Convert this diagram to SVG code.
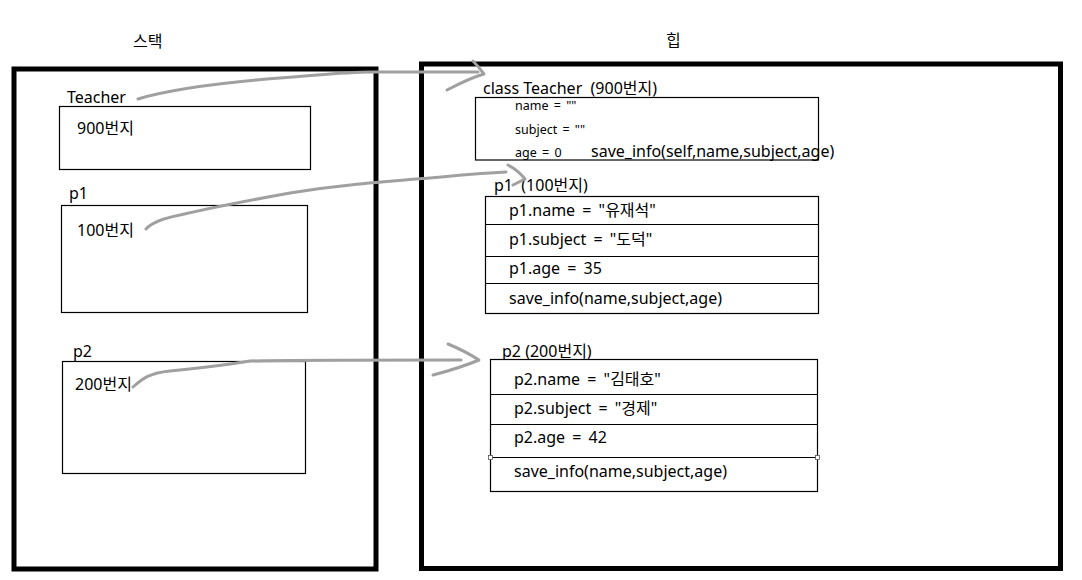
<svg xmlns="http://www.w3.org/2000/svg" width="1082" height="580" viewBox="0 0 1082 580">
<style>
text{font-family:"Noto Sans","Noto Sans CJK KR",sans-serif;fill:#000;white-space:pre}
.t{font-size:16px}
.w{word-spacing:3px}
.s{font-size:12.5px;word-spacing:2px}
.h{font-size:16px}
.outer{fill:none;stroke:#000;stroke-width:5}
.box{fill:#fff;stroke:#000;stroke-width:1.2}
.div{stroke:#000;stroke-width:1.2}
.pen{fill:none;stroke:#a0a0a0;stroke-width:3;stroke-linecap:round;stroke-linejoin:round}
.hdl{fill:#fff;stroke:#555;stroke-width:0.8}
</style>
<rect width="1082" height="580" fill="#fff"/>

<g id="stack">
<text class="h" x="133" y="47">스택</text>
<rect class="outer" x="14" y="69" width="362" height="500"/>
</g>
<g id="heap">
<text class="h" x="666" y="46">힙</text>
<rect class="outer" x="421.5" y="64" width="639" height="504.5"/>
</g>

<g id="teacher-var">
<text class="t" x="67" y="103">Teacher</text>
<rect class="box" x="59.5" y="106.5" width="251" height="63"/>
<text class="t" x="77" y="134">900번지</text>
</g>
<g id="p1-var">
<text class="t" x="69" y="199">p1</text>
<rect class="box" x="61.5" y="205.5" width="246" height="107"/>
<text class="t" x="77" y="236">100번지</text>
</g>
<g id="p2-var">
<text class="t" x="73" y="357">p2</text>
<rect class="box" x="62.5" y="361.5" width="243" height="112"/>
<text class="t" x="75" y="390">200번지</text>
</g>

<g id="class-teacher">
<text class="t" x="483" y="94">class Teacher  (900번지)</text>
<rect class="box" x="475.5" y="97.5" width="343" height="62.5"/>
<text class="s" x="515" y="110">name = ""</text>
<text class="s" x="515" y="134">subject = ""</text>
<text class="s" x="515" y="157">age = 0</text>
<text class="t" x="591" y="157">save_info(self,name,subject,age)</text>
</g>

<g id="p1-obj">
<text class="t" x="494" y="191">p1  (100번지)</text>
<rect class="box" x="485.5" y="196.5" width="333" height="117"/>
<line class="div" x1="485.5" y1="224.5" x2="818.5" y2="224.5"/>
<line class="div" x1="485.5" y1="256.5" x2="818.5" y2="256.5"/>
<line class="div" x1="485.5" y1="283.5" x2="818.5" y2="283.5"/>
<text class="t w" x="509" y="216">p1.name = "유재석"</text>
<text class="t w" x="509" y="245">p1.subject = "도덕"</text>
<text class="t w" x="509" y="274">p1.age = 35</text>
<text class="t" x="509" y="304">save_info(name,subject,age)</text>
</g>

<g id="p2-obj">
<text class="t" x="502" y="357">p2 (200번지)</text>
<rect class="box" x="490.5" y="359.5" width="327" height="132"/>
<line class="div" x1="490.5" y1="394.5" x2="817.5" y2="394.5"/>
<line class="div" x1="490.5" y1="424.5" x2="817.5" y2="424.5"/>
<line class="div" x1="490.5" y1="457.5" x2="817.5" y2="457.5"/>
<text class="t w" x="514" y="385">p2.name = "김태호"</text>
<text class="t w" x="514" y="414">p2.subject = "경제"</text>
<text class="t w" x="514" y="443">p2.age = 42</text>
<text class="t" x="514" y="477">save_info(name,subject,age)</text>
<rect class="hdl" x="488.5" y="455.5" width="4" height="4"/>
<rect class="hdl" x="815.5" y="455.5" width="4" height="4"/>
</g>

<g id="connectors">
<path class="pen" d="M138,99 C175,88 230,82 280,78 C320,75 345,72 372,72 L478,72"/>
<path class="pen" d="M473,61 Q478,66 484,74 Q470,78 447,90"/>
<path class="pen" d="M146,229 C152,222 165,218 180,215 C210,208 240,202 290,193 C340,185 380,182 430,178 C460,175 485,173 506,172"/>
<path class="pen" d="M508,165 Q518,170 525,179 L513,185"/>
<path class="pen" d="M133,387 C143,378 150,373 170,371 C200,368 220,366 250,361 C280,360 400,360 461,360"/>
<path class="pen" d="M448,344 Q465,351 479,360 Q460,368 433,375"/>
</g>
</svg>
